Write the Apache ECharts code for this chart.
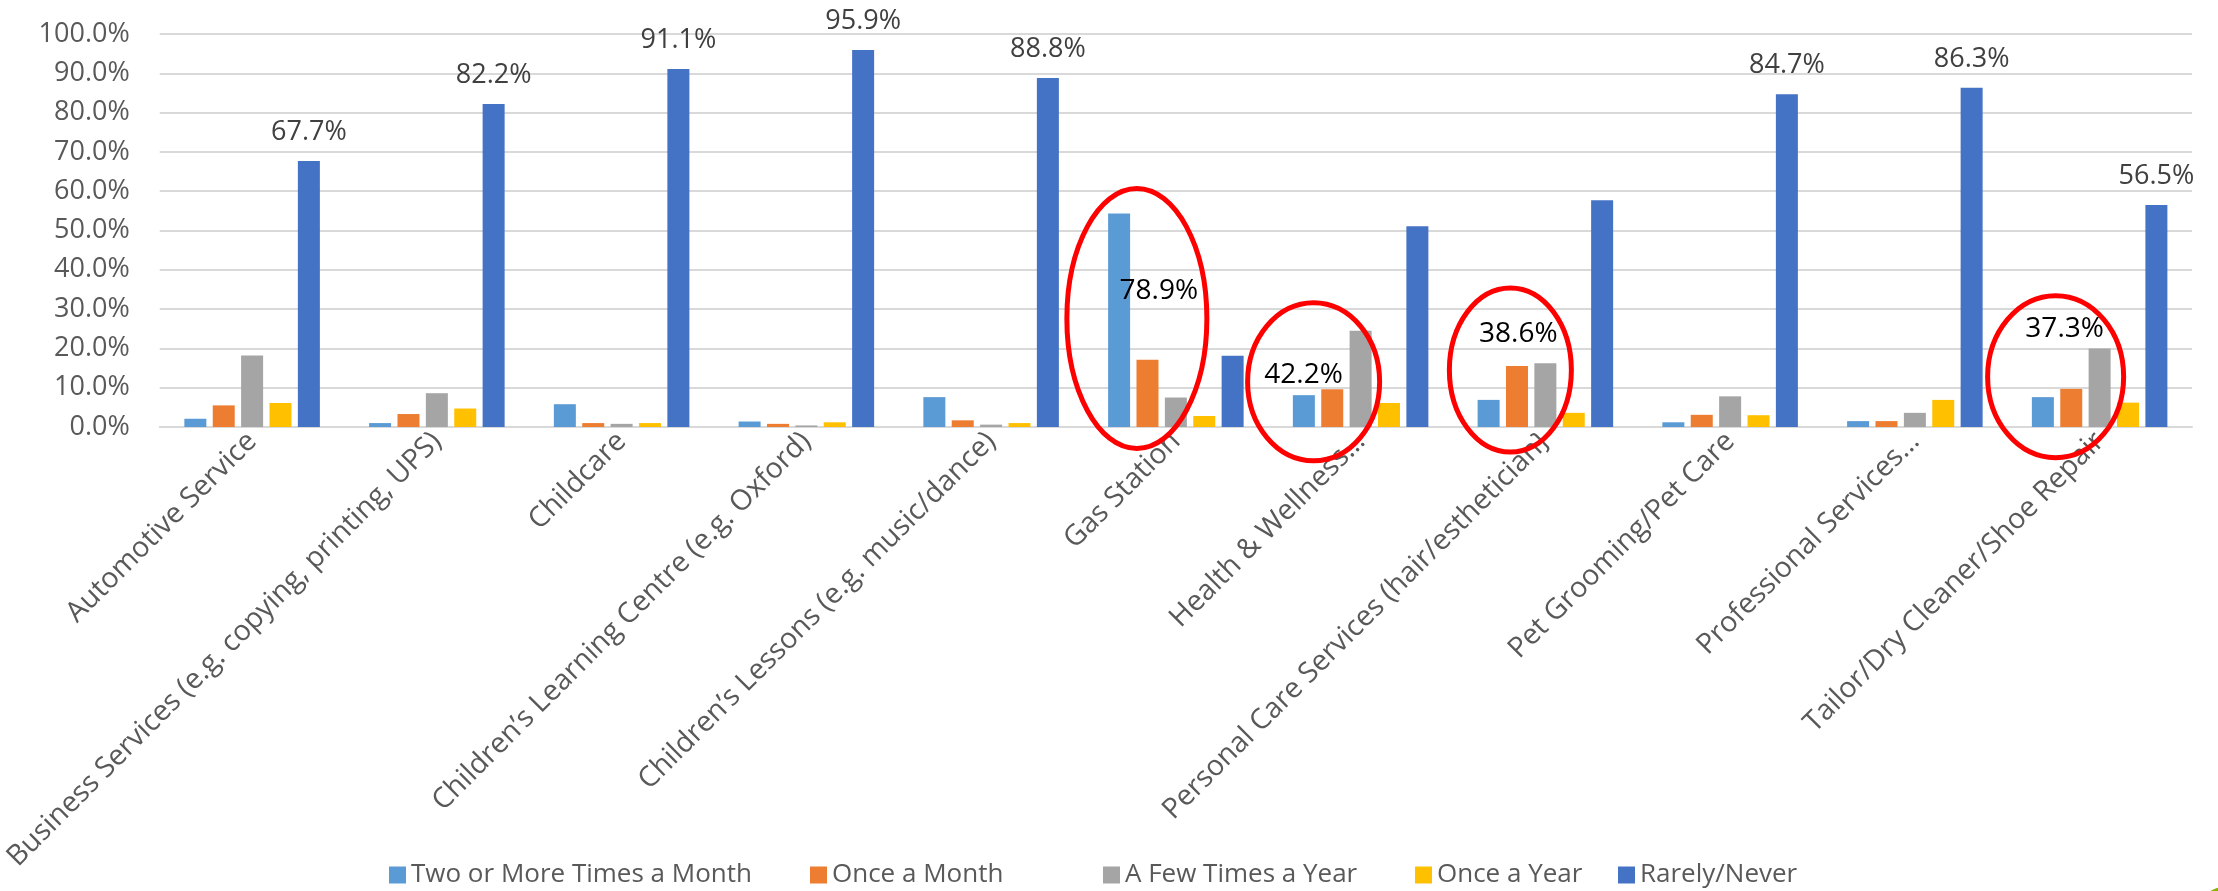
<!DOCTYPE html>
<html>
<head>
<meta charset="utf-8">
<script src="https://cdn.jsdelivr.net/npm/echarts@6/dist/echarts.min.js"></script>
<style>
  html, body { margin: 0; padding: 0; background: #fff; }
  #main { width: 2218px; height: 891px; }
</style>
</head>
<body>
<div id="main"></div>
<script>
var categories = ['Automotive Service', 'Business Services (e.g. copying, printing, UPS)', 'Childcare',
  'Children\u2019s Learning Centre (e.g. Oxford)', 'Children\u2019s Lessons (e.g. music/dance)', 'Gas Station',
  'Health & Wellness\u2026', 'Personal Care Services (hair/esthetician}', 'Pet Grooming/Pet Care',
  'Professional Services\u2026', 'Tailor/Dry Cleaner/Shoe Repair']
var seriesNames = ['Two or More Times a Month', 'Once a Month', 'A Few Times a Year', 'Once a Year', 'Rarely/Never']
var twoOrMore = [2.1, 1.0, 5.8, 1.4, 7.6, 54.3, 8.1, 6.9, 1.2, 1.5, 7.6]
var onceMonth = [5.5, 3.3, 1.0, 0.8, 1.7, 17.1, 9.6, 15.5, 3.1, 1.5, 9.7]
var fewYear = [18.2, 8.6, 0.8, 0.4, 0.6, 7.5, 24.5, 16.2, 7.8, 3.6, 20.0]
var onceYear = [6.1, 4.7, 1.0, 1.2, 1.0, 2.8, 6.1, 3.6, 3.0, 6.9, 6.2]
var rarely = [67.7, 82.2, 91.1, 95.9, 88.8, 18.1, 51.1, 57.7, 84.7, 86.3, 56.5]
// which Rarely/Never bars carry a value label
var rarelyLabelled = [true, true, true, true, true, false, false, false, true, true, true]
// circled groups and the combined share written inside the circle
var circledCats = ['Gas Station', 'Health & Wellness\u2026', 'Personal Care Services (hair/esthetician}', 'Tailor/Dry Cleaner/Shoe Repair']
var circledTotals = ['78.9%', '42.2%', '38.6%', '37.3%']
var yTicks = [0, 10, 20, 30, 40, 50, 60, 70, 80, 90, 100]

var colors = ['#5B9BD5', '#ED7D31', '#A5A5A5', '#FFC000', '#4472C4']
var font = '"Open Sans", "Liberation Sans", sans-serif'
// left edge of each legend entry
var legendLefts = [384, 805, 1098, 1410, 1613]

// placement of the hand drawn circles (px offsets from category centre, y in axis units)
var circleLayout = [
  { dx: -39, cy: 27.6, rx: 70, ry: 130, tx: -17, ty: 34.6 },
  { dx: -47, cy: 11.5, rx: 66, ry: 79, tx: -57, ty: 13.2 },
  { dx: -35, cy: 14.5, rx: 61, ry: 82, tx: -27, ty: 23.7 },
  { dx: -44, cy: 12.8, rx: 68, ry: 81, tx: -35, ty: 24.9 }
]

var chart = echarts.init(document.getElementById('main'))

function barSeries (i, values) {
  return {
    name: seriesNames[i],
    type: 'bar',
    barWidth: 22,
    barGap: '29%',
    itemStyle: { color: colors[i] },
    data: values
  }
}

var rarelyData = rarely.map(function (v, i) {
  return { value: v, label: { show: rarelyLabelled[i] } }
})
var rarelySeries = barSeries(4, rarelyData)
rarelySeries.label = {
  show: false,
  position: 'top',
  distance: 15,
  color: '#404040',
  fontSize: 27,
  fontFamily: font,
  formatter: function (p) { return p.value.toFixed(1) + '%' }
}

var legends = seriesNames.map(function (name, i) {
  return {
    data: [name],
    left: legendLefts[i],
    top: 857,
    icon: 'rect',
    itemWidth: 17,
    itemHeight: 17,
    textStyle: { color: '#595959', fontSize: 26, fontFamily: font }
  }
})

var option = {
  animation: false,
  backgroundColor: '#fff',
  grid: { left: 155, right: 26, top: 34, bottom: 464, containLabel: false },
  legend: legends,
  xAxis: {
    type: 'category',
    data: categories,
    axisLine: { lineStyle: { color: '#d9d9d9', width: 2 } },
    axisTick: { show: false },
    axisLabel: {
      interval: 0,
      rotate: 45,
      margin: 10,
      color: '#595959',
      fontSize: 28.5,
      fontFamily: font
    }
  },
  yAxis: {
    type: 'value',
    min: yTicks[0],
    max: yTicks[yTicks.length - 1],
    interval: 10,
    axisLine: { show: false },
    axisTick: { show: false },
    splitLine: { lineStyle: { color: '#d9d9d9', width: 2 } },
    axisLabel: {
      margin: 30,
      color: '#595959',
      fontSize: 27,
      fontFamily: font,
      formatter: function (v) { return v.toFixed(1) + '%' }
    }
  },
  series: [
    barSeries(0, twoOrMore),
    barSeries(1, onceMonth),
    barSeries(2, fewYear),
    barSeries(3, onceYear),
    rarelySeries
  ]
}
chart.setOption(option)

// red circles drawn over the chart, anchored to the categories
var graphics = []
circledCats.forEach(function (cat, i) {
  var L = circleLayout[i]
  var cx = chart.convertToPixel({ xAxisIndex: 0 }, cat)
  graphics.push({
    type: 'ellipse',
    z: 100,
    shape: { cx: cx + L.dx, cy: chart.convertToPixel({ yAxisIndex: 0 }, L.cy), rx: L.rx, ry: L.ry },
    style: { fill: null, stroke: '#ff0000', lineWidth: 5 }
  })
  graphics.push({
    type: 'text',
    z: 101,
    x: cx + L.tx,
    y: chart.convertToPixel({ yAxisIndex: 0 }, L.ty),
    style: {
      text: circledTotals[i],
      fill: '#000',
      fontSize: 28,
      fontFamily: font,
      align: 'center',
      verticalAlign: 'middle'
    }
  })
})
// slide decoration peeking in at the bottom right corner
graphics.push({
  type: 'circle',
  z: 100,
  shape: { cx: 2224, cy: 912, r: 25 },
  style: { fill: '#8db000' }
})
chart.setOption({ graphic: graphics })
</script>
</body>
</html>
